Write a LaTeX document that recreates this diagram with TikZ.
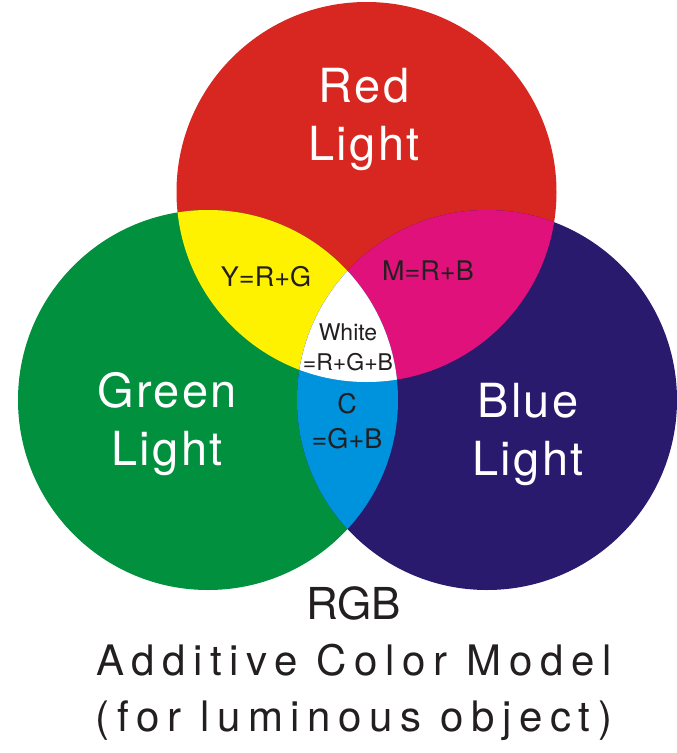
\documentclass[tikz,border=0pt]{standalone}
\usepackage{fontspec}
\setmainfont{TeX Gyre Heros}
\newfontfamily\lampfont[LetterSpace=5]{TeX Gyre Heros}
\newfontfamily\trackfont[LetterSpace=18]{TeX Gyre Heros}
\definecolor{redlight}{HTML}{D82620}
\definecolor{greenlight}{HTML}{00903E}
\definecolor{bluelight}{HTML}{2A1A6E}
\definecolor{yellowmix}{HTML}{FFF200}
\definecolor{magentamix}{HTML}{E0117B}
\definecolor{cyanmix}{HTML}{0093DD}
\definecolor{ink}{HTML}{231F20}
\tikzset{
  lamp/.style={text=white,align=center,inner sep=0pt,
    font=\lampfont\fontsize{47}{58}\selectfont},
  mix/.style={text=ink,align=center,inner sep=0pt,
    font=\fontsize{27}{35}\selectfont},
  core/.style={text=ink,align=center,inner sep=0pt,
    font=\fontsize{23}{30}\selectfont},
  caption/.style={text=ink,align=center,inner sep=0pt,
    font=\trackfont\fontsize{42}{56}\selectfont}
}
\begin{document}
\begin{tikzpicture}[x=1pt,y=-1pt]
\useasboundingbox (0,0) rectangle (677,753);
\coordinate (rc) at (366.5,192);
\coordinate (gc) at (208,400);
\coordinate (bc) at (487,400);
\def\rad{190pt}
% the three lamps
\fill[redlight] (rc) circle[radius=\rad];
\fill[greenlight] (gc) circle[radius=\rad];
\fill[bluelight] (bc) circle[radius=\rad];
% two by two
\begin{scope}
  \clip (rc) circle[radius=\rad];
  \fill[yellowmix] (gc) circle[radius=\rad];
  \fill[magentamix] (bc) circle[radius=\rad];
\end{scope}
\begin{scope}
  \clip (gc) circle[radius=\rad];
  \fill[cyanmix] (bc) circle[radius=\rad];
\end{scope}
% all three
\begin{scope}
  \clip (rc) circle[radius=\rad];
  \clip (gc) circle[radius=\rad];
  \fill[white] (bc) circle[radius=\rad];
\end{scope}
% labels
\node[lamp,anchor=base] (red) at (364,160) {Red\\Light};
\node[lamp,anchor=base] (green) at (167,465) {Green\\Light};
\node[lamp,anchor=base] (blue) at (528,475) {Blue\\Light};
\node[mix,anchor=base] (yellow) at (266,286) {Y=R+G};
\node[mix,anchor=base] (magenta) at (428,280) {M=R+B};
\node[core,anchor=base] (white) at (348,370) {White\\=R+G+B};
\node[mix,anchor=base] (cyan) at (347,448) {C\\=G+B};
\node[caption,anchor=base] (title) at (354,731)
  {{\rmfamily\fontsize{44}{56}\selectfont RGB}\\
   Additive Color Model\\
   (for luminous object)};
\end{tikzpicture}
\end{document}
